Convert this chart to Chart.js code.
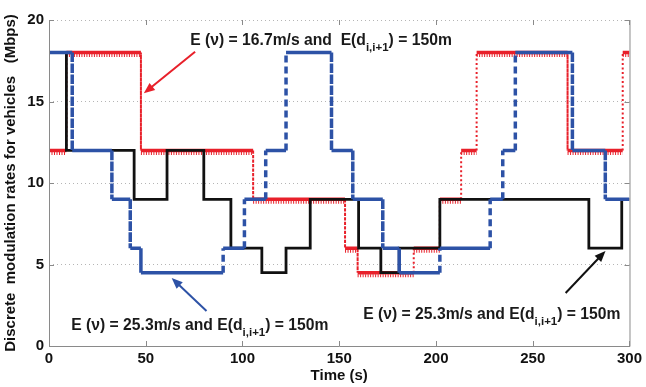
<!DOCTYPE html>
<html>
<head>
<meta charset="utf-8">
<script src="https://cdn.jsdelivr.net/npm/chart.js@4.4.0/dist/chart.umd.min.js"></script>
<style>
  html, body { margin: 0; padding: 0; background: #fff; }
  #wrap { width: 646px; height: 387px; }
</style>
</head>
<body>
<div id="wrap"><canvas id="rateChart" width="646" height="387"></canvas></div>
<script>
// switching instants (s) and the rate held after each one (Mbps)
var blackTimes = [0, 9, 44, 61, 80, 94, 110, 122.5, 135, 160, 171.5, 181, 202, 279, 296, 300];
var blackRates = [18, 12, 9, 12, 9, 6, 4.5, 6, 9, 6, 4.5, 6, 9, 6, 9];

var blueTimes = [0, 12, 32.5, 42, 47.5, 90, 101, 112, 122.5, 146, 157, 172.5, 181, 202, 228, 234.5, 241, 270.5, 287.5, 300];
var blueRates = [18, 12, 9, 6, 4.5, 6, 9, 12, 18, 12, 9, 6, 4.5, 6, 9, 12, 18, 12, 9];

var redTimes = [0, 9, 47.5, 105.5, 153, 159.5, 188.5, 202, 213, 221, 268, 296.5, 300];
var redRates = [12, 18, 12, 9, 6, 4.5, 6, 9, 12, 18, 12, 18];

var xTicks = [0, 50, 100, 150, 200, 250, 300];
var yTicks = [0, 5, 10, 15, 20];

var RED = '#e8202a', BLUE = '#2d52a6', BLACK = '#111111';
var FONT = '"Liberation Sans", Arial, sans-serif';

// turn the step data into corner points
function stepPoints(times, rates) {
  var pts = [];
  for (var i = 0; i < rates.length; i++) {
    pts.push({x: times[i], y: rates[i]});
    pts.push({x: times[i + 1], y: rates[i]});
  }
  return pts;
}
function isVertical(ctx) {
  return ctx.p0.parsed.x === ctx.p1.parsed.x;
}

// text notes and arrows, placed in data units
var notes = [
  {pre: 'E (\u03bd) = 16.7m/s and  E(d', sub: 'i,i+1', post: ') = 150m', t: 73, v: 18.47},
  {pre: 'E (\u03bd) = 25.3m/s and E(d', sub: 'i,i+1', post: ') = 150m', t: 11.5, v: 0.98},
  {pre: 'E (\u03bd) = 25.3m/s and E(d', sub: 'i,i+1', post: ') = 150m', t: 162.4, v: 1.66}
];
var arrows = [
  {from: [75.5, 18.05], to: [49, 15.5], color: RED},
  {from: [81.4, 2.15], to: [63.4, 4.17], color: BLUE},
  {from: [267, 3.25], to: [287.6, 5.83], color: BLACK}
];

var redTeeth = {
  id: 'redTeeth',
  afterDatasetDraw: function(chart, args) {
    if (args.meta.label !== 'red') return;
    var c = chart.ctx, xs = chart.scales.x, ys = chart.scales.y, a = chart.chartArea;
    c.save();
    c.beginPath();
    c.rect(a.left, a.top, a.right - a.left, a.bottom - a.top);
    c.clip();
    c.strokeStyle = RED;
    c.lineWidth = 3;
    c.setLineDash([1, 1.5]);
    for (var i = 0; i < redRates.length; i++) {
      var y = ys.getPixelForValue(redRates[i]) + 3;
      c.beginPath();
      c.moveTo(xs.getPixelForValue(redTimes[i]), y);
      c.lineTo(xs.getPixelForValue(redTimes[i + 1]), y);
      c.stroke();
    }
    c.restore();
  }
};

var frameAndNotes = {
  id: 'frameAndNotes',
  afterDraw: function(chart) {
    var c = chart.ctx, a = chart.chartArea, xs = chart.scales.x, ys = chart.scales.y;
    c.save();
    // box
    c.strokeStyle = '#8a8a8a';
    c.lineWidth = 1;
    c.beginPath();
    c.moveTo(a.left + 0.5, a.top);
    c.lineTo(a.left + 0.5, a.bottom + 0.5);
    c.lineTo(a.right + 0.5, a.bottom + 0.5);
    c.lineTo(a.right + 0.5, a.top);
    c.stroke();
    // inside tick marks
    c.beginPath();
    xTicks.forEach(function(t) {
      var x = Math.round(xs.getPixelForValue(t)) + 0.5;
      c.moveTo(x, a.bottom); c.lineTo(x, a.bottom - 5);
      c.moveTo(x, a.top); c.lineTo(x, a.top + 5);
    });
    yTicks.forEach(function(v) {
      var y = Math.round(ys.getPixelForValue(v)) + 0.5;
      c.moveTo(a.left, y); c.lineTo(a.left + 5, y);
      c.moveTo(a.right, y); c.lineTo(a.right - 5, y);
    });
    c.stroke();

    // arrows
    arrows.forEach(function(ar) {
      var x0 = xs.getPixelForValue(ar.from[0]), y0 = ys.getPixelForValue(ar.from[1]);
      var x1 = xs.getPixelForValue(ar.to[0]), y1 = ys.getPixelForValue(ar.to[1]);
      var ang = Math.atan2(y1 - y0, x1 - x0);
      c.strokeStyle = ar.color;
      c.fillStyle = ar.color;
      c.lineWidth = 2;
      c.beginPath();
      c.moveTo(x0, y0);
      c.lineTo(x1 - 8 * Math.cos(ang), y1 - 8 * Math.sin(ang));
      c.stroke();
      c.beginPath();
      c.moveTo(x1, y1);
      c.lineTo(x1 - 11 * Math.cos(ang) + 4.5 * Math.sin(ang), y1 - 11 * Math.sin(ang) - 4.5 * Math.cos(ang));
      c.lineTo(x1 - 11 * Math.cos(ang) - 4.5 * Math.sin(ang), y1 - 11 * Math.sin(ang) + 4.5 * Math.cos(ang));
      c.closePath();
      c.fill();
    });

    // notes
    c.fillStyle = '#1a1a1a';
    c.textBaseline = 'alphabetic';
    c.textAlign = 'left';
    notes.forEach(function(n) {
      var x = xs.getPixelForValue(n.t), y = ys.getPixelForValue(n.v);
      c.font = 'bold 15.7px ' + FONT;
      c.fillText(n.pre, x, y);
      x += c.measureText(n.pre).width;
      c.font = 'bold 11.5px ' + FONT;
      c.fillText(n.sub, x, y + 6);
      x += c.measureText(n.sub).width;
      c.font = 'bold 15.7px ' + FONT;
      c.fillText(n.post, x, y);
    });
    c.restore();
  }
};

var canvas = document.getElementById('rateChart');
var rateChart = new Chart(canvas, {
  type: 'line',
  data: {
    datasets: [
      {
        label: 'blue',
        data: stepPoints(blueTimes, blueRates),
        order: 0,
        borderColor: BLUE,
        borderWidth: 3.5,
        pointRadius: 0,
        segment: {
          borderDash: function(ctx) { return isVertical(ctx) ? [7, 4] : []; }
        }
      },
      {
        label: 'black',
        data: stepPoints(blackTimes, blackRates),
        order: 1,
        borderColor: BLACK,
        borderWidth: 2.8,
        pointRadius: 0
      },
      {
        label: 'red',
        data: stepPoints(redTimes, redRates),
        order: 2,
        borderColor: RED,
        borderWidth: 3,
        pointRadius: 0,
        segment: {
          borderDash: function(ctx) { return isVertical(ctx) ? [2, 2.5] : []; },
          borderWidth: function(ctx) { return isVertical(ctx) ? 2 : 3.5; }
        }
      }
    ]
  },
  options: {
    responsive: false,
    animation: false,
    events: [],
    layout: {padding: {left: 0, top: 20, right: 12, bottom: 0}},
    plugins: {legend: {display: false}, tooltip: {enabled: false}},
    elements: {line: {tension: 0, borderJoinStyle: 'miter', borderCapStyle: 'butt'}},
    scales: {
      x: {
        type: 'linear',
        min: 0,
        max: 300,
        afterFit: function(s) { s.height = 41; },
        afterBuildTicks: function(s) { s.ticks = xTicks.map(function(v) { return {value: v}; }); },
        grid: {display: false, drawTicks: false},
        border: {display: false},
        ticks: {color: '#111', padding: 4, maxRotation: 0, font: {family: FONT, size: 15, weight: 'bold'}},
        title: {display: true, text: 'Time (s)', color: '#111', padding: {top: 0, bottom: 2},
                font: {family: FONT, size: 15, weight: 'bold'}}
      },
      y: {
        min: 0,
        max: 20,
        afterFit: function(s) { s.width = 49; },
        afterBuildTicks: function(s) { s.ticks = yTicks.map(function(v) { return {value: v}; }); },
        grid: {color: '#b5b5b5', lineWidth: 1, drawTicks: false},
        border: {display: false, dash: [1, 3]},
        ticks: {color: '#111', padding: 5, font: {family: FONT, size: 15, weight: 'bold'}},
        title: {display: true, text: 'Discrete  modulation rates for vehicles   (Mbps)', color: '#111',
                padding: {top: 2, bottom: 0}, font: {family: FONT, size: 15, weight: 'bold'}}
      }
    }
  },
  plugins: [redTeeth, frameAndNotes]
});
</script>
</body>
</html>
